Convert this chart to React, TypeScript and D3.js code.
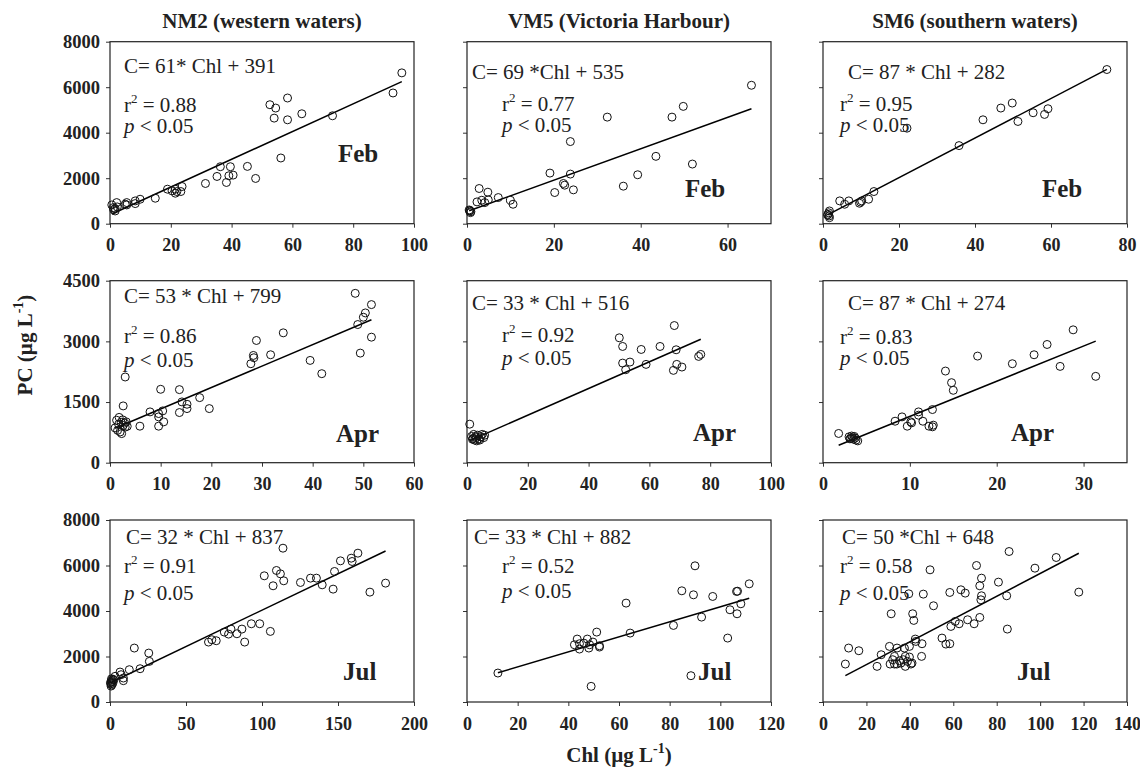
import React, { useEffect, useRef } from "react";
import * as d3 from "d3";

// ---------- DATA ----------
const stations = ["NM2 (western waters)", "VM5 (Victoria Harbour)", "SM6 (southern waters)"];
const months = ["Feb", "Apr", "Jul"];

const xMaxByPanel = [
  [100, 70, 80],
  [60, 100, 35],
  [200, 120, 140],
];
const xTicksByPanel = [
  [[0, 20, 40, 60, 80, 100], [0, 20, 40, 60], [0, 20, 40, 60, 80]],
  [[0, 10, 20, 30, 40, 50, 60], [0, 20, 40, 60, 80, 100], [0, 10, 20, 30]],
  [[0, 50, 100, 150, 200], [0, 20, 40, 60, 80, 100, 120], [0, 20, 40, 60, 80, 100, 120, 140]],
];
const yMaxByRow = [8000, 4500, 8000];
const yTicksByRow = [
  [0, 2000, 4000, 6000, 8000],
  [0, 1500, 3000, 4500],
  [0, 2000, 4000, 6000, 8000],
];

const slopes = [
  [61, 69, 87],
  [53, 33, 87],
  [32, 33, 50],
];
const intercepts = [
  [391, 535, 282],
  [799, 516, 274],
  [837, 882, 648],
];
const equations = [
  ["C= 61* Chl + 391", "C= 69 *Chl + 535", "C= 87 * Chl + 282"],
  ["C= 53 * Chl + 799", "C= 33 * Chl + 516", "C= 87 * Chl + 274"],
  ["C= 32 * Chl + 837", "C= 33 * Chl + 882", "C= 50 *Chl + 648"],
];
const r2Values = [
  ["0.88", "0.77", "0.95"],
  ["0.86", "0.92", "0.83"],
  ["0.91", "0.52", "0.58"],
];

const nm2Feb = [[96.0,6630],[93.1,5746],[52.6,5230],[54.5,5083],[54.0,4641],[58.4,5525],[58.4,4567],[63.1,4832],[73.2,4744],[56.2,2888],[45.2,2519],[47.9,1989],[36.3,2505],[35.2,2077],[39.6,2505],[39.1,2107],[40.5,2136],[38.3,1812],[31.4,1768],[18.9,1517],[20.4,1444],[21.5,1517],[22.0,1414],[23.7,1635],[23.3,1414],[21.5,1340],[14.9,1120],[9.9,1075],[8.3,1002],[8.3,884],[5.5,928],[5.0,855],[2.2,928],[0.6,825],[1.1,707],[1.7,560],[1.7,663],[5.5,825],[2.4,737],[1.2,620]];
const vm5Feb = [[65.5,6085],[49.8,5157],[47.2,4685],[32.3,4685],[23.8,3610],[43.5,2961],[51.9,2622],[39.3,2151],[36.0,1650],[19.1,2225],[23.8,2181],[22.2,1768],[22.5,1694],[24.5,1488],[20.2,1370],[10.0,1031],[10.6,855],[7.2,1149],[2.8,1547],[4.8,1385],[4.9,1046],[3.4,1031],[2.3,958],[4.1,928],[0.6,560],[0.8,486],[0.5,604],[0.9,530],[0.7,580]];
const sm6Feb = [[74.7,6777],[49.8,5304],[46.8,5083],[59.2,5053],[58.3,4803],[55.3,4877],[51.3,4494],[42.1,4567],[22.1,4199],[35.8,3433],[13.4,1414],[12.0,1075],[10.2,1002],[9.6,899],[9.9,950],[6.8,1002],[4.4,1002],[5.7,855],[1.7,560],[1.3,412],[1.6,339],[1.7,265],[1.5,480],[1.2,380]];
const nm2Apr = [[48.4,4188],[51.6,3909],[50.4,3703],[50.0,3597],[48.9,3416],[51.6,3104],[49.4,2710],[34.2,3211],[28.9,3022],[28.3,2652],[28.4,2595],[27.8,2447],[31.7,2669],[39.5,2529],[41.8,2201],[3.0,2119],[10.0,1815],[13.7,1807],[17.7,1609],[19.6,1338],[14.2,1503],[15.2,1445],[15.2,1338],[13.7,1240],[10.4,1281],[9.6,1215],[9.6,1133],[7.9,1256],[10.6,1010],[9.6,903],[5.9,903],[2.6,1404],[1.3,1050],[1.8,1120],[2.5,1060],[3.2,1010],[2.9,980],[1.0,860],[1.5,800],[2.0,760],[2.3,720],[3.0,880],[2.6,920],[1.7,950],[3.4,900],[2.2,1000]];
const vm5Apr = [[68.2,3391],[50.1,3088],[51.2,2874],[57.3,2800],[63.5,2874],[68.8,2792],[51.2,2463],[53.6,2488],[52.2,2299],[58.9,2431],[67.9,2283],[69.0,2431],[70.7,2365],[76.2,2628],[76.9,2677],[0.9,953],[1.5,650],[2.0,600],[2.5,560],[3.0,620],[3.5,680],[4.0,590],[4.5,640],[5.0,700],[5.5,620],[2.2,700],[3.2,540],[4.2,560],[1.8,580],[5.8,680],[2.8,650]];
const sm6Apr = [[28.8,3285],[25.8,2923],[24.3,2669],[21.8,2447],[27.3,2381],[31.4,2135],[17.8,2636],[14.1,2266],[14.8,1979],[15.0,1790],[12.6,1314],[11.0,1256],[11.0,1174],[9.1,1133],[8.3,1026],[10.1,1010],[10.2,985],[9.7,903],[11.5,1026],[12.2,903],[12.7,928],[12.6,887],[1.8,723],[3.0,640],[3.2,600],[3.4,620],[3.5,580],[3.6,650],[3.8,560],[4.0,540],[3.3,660],[3.1,590],[3.7,610]];
const nm2Jul = [[113.8,6761],[163.1,6542],[158.7,6322],[159.3,6176],[151.6,6205],[181.3,5225],[171.0,4829],[147.7,5737],[146.8,4961],[139.6,5151],[135.8,5444],[131.9,5444],[125.3,5254],[109.5,5781],[112.1,5634],[114.3,5327],[101.5,5547],[107.3,5108],[105.5,3103],[98.5,3439],[93.0,3439],[86.8,3205],[88.6,2634],[83.5,3000],[79.6,3205],[78.0,2985],[75.2,3073],[69.9,2693],[67.0,2737],[64.8,2634],[16.0,2371],[25.5,2151],[25.9,1785],[19.8,1463],[12.7,1420],[6.6,1317],[7.3,1200],[8.8,1054],[8.8,937],[3.3,1127],[1.0,950],[0.8,880],[0.5,800],[1.2,750],[0.7,700],[2.0,1000],[1.5,900],[0.3,850],[1.8,820],[1.0,1020],[2.5,960]];
const vm5Jul = [[90.0,5986],[111.4,5195],[84.8,4888],[89.4,4712],[97.0,4639],[106.4,4859],[106.8,4870],[108.1,4317],[103.8,4054],[106.6,3878],[92.6,3732],[81.5,3366],[102.9,2810],[62.8,4347],[64.4,3029],[51.2,3073],[43.5,2766],[47.5,2766],[42.4,2517],[44.4,2561],[46.1,2590],[49.7,2634],[48.4,2517],[44.4,2327],[48.1,2371],[52.3,2473],[52.3,2415],[12.2,1273],[49.0,688],[88.4,1156]];
const sm6Jul = [[85.7,6615],[107.4,6352],[97.6,5883],[70.7,6000],[49.3,5810],[73.0,5444],[72.2,5108],[80.8,5269],[63.5,4932],[65.5,4786],[58.4,4815],[73.0,4669],[72.7,4493],[84.6,4669],[117.8,4829],[46.2,4742],[39.5,4756],[50.9,4230],[31.4,3878],[41.3,3878],[41.8,3586],[72.2,3717],[69.6,3439],[66.6,3615],[62.7,3439],[60.9,3542],[58.9,3322],[84.9,3205],[54.8,2810],[56.6,2546],[58.4,2561],[42.5,2766],[42.8,2663],[45.6,2561],[11.8,2371],[16.5,2254],[10.3,1668],[24.9,1566],[26.8,2078],[30.6,2444],[34.1,2371],[37.5,2371],[39.8,2444],[37.9,2005],[39.8,1976],[45.4,2005],[32.9,2005],[32.1,1859],[30.9,1668],[32.9,1668],[35.2,1815],[35.9,1712],[37.9,1566],[40.5,1668],[41.0,1712],[34.0,1668],[37.0,1859],[38.9,1785]];

const panelData = [
  [nm2Feb, vm5Feb, sm6Feb],
  [nm2Apr, vm5Apr, sm6Apr],
  [nm2Jul, vm5Jul, sm6Jul],
];

// ---------- LAYOUT ----------
const W = 1140, H = 768;
const colLeft = [110, 467, 823];
const rowTop = [41.7, 280.7, 520];
const PW = 304, PH = 182;
const FONT = "'Liberation Serif', 'Times New Roman', Times, serif";

// text offsets relative to panel top-left: [eqX, eqY, r2X, r2Y, pX, pY, monX, monY]
const textLayout = [
  [[14, 31, 14, 70, 14, 91.6, 228, 120.6], [5, 37.3, 35, 69.3, 35, 90, 218, 155.6], [25, 37.3, 17, 69.3, 17, 90, 219, 155.6]],
  [[14, 22.6, 14, 62.6, 14, 86, 226, 161], [5, 29.3, 35, 61, 35, 84.3, 226, 160], [25, 29.3, 17, 63.3, 17, 84.3, 188, 160]],
  [[16, 24, 14, 53.3, 14, 80, 233, 160], [7, 24, 35, 53.3, 35, 78.3, 231, 160], [19, 24, 17, 53.3, 17, 80, 194, 160]],
];

export default function App() {
  const ref = useRef<SVGSVGElement>(null);

  useEffect(() => {
    const svg = d3.select(ref.current);
    svg.selectAll("*").remove();
    svg.append("rect").attr("width", W).attr("height", H).attr("fill", "#fff");

    for (let r = 0; r < 3; r++) {
      for (let c = 0; c < 3; c++) {
        const left = colLeft[c], top = rowTop[r];
        const x = d3.scaleLinear().domain([0, xMaxByPanel[r][c]]).range([left, left + PW]);
        const y = d3.scaleLinear().domain([0, yMaxByRow[r]]).range([top + PH, top]);
        const g = svg.append("g");

        const xa = g.append("g").attr("transform", `translate(0,${top + PH})`)
          .call(d3.axisBottom(x).tickValues(xTicksByPanel[r][c]).tickSize(4).tickPadding(11).tickFormat(d3.format("d")));
        xa.select(".domain").remove();
        xa.selectAll("text").attr("font-family", FONT).attr("font-weight", "bold").attr("font-size", 18).attr("fill", "#222");
        xa.selectAll("line").attr("stroke", "#333");

        const ya = g.append("g").attr("transform", `translate(${left},0)`)
          .call(d3.axisLeft(y).tickValues(yTicksByRow[r]).tickSize(4).tickPadding(6)
            .tickFormat(c === 0 ? (d3.format("d") as any) : () => ""));
        ya.select(".domain").remove();
        ya.selectAll("text").attr("font-family", FONT).attr("font-weight", "bold").attr("font-size", 18.5).attr("fill", "#222");
        ya.selectAll("line").attr("stroke", "#333");

        g.append("rect").attr("x", left).attr("y", top).attr("width", PW).attr("height", PH)
          .attr("fill", "none").attr("stroke", "#222").attr("stroke-width", 1.2);

        const data = panelData[r][c];
        const [xmin, xmax] = d3.extent(data, (d) => d[0]) as [number, number];
        const line = d3.line<number>().x((v) => x(v)).y((v) => y(slopes[r][c] * v + intercepts[r][c]));
        g.append("path").attr("d", line([xmin, xmax])).attr("stroke", "#000").attr("stroke-width", 1.5).attr("fill", "none");

        g.selectAll("circle.pt").data(data).enter().append("circle")
          .attr("cx", (d) => x(d[0])).attr("cy", (d) => y(d[1])).attr("r", 4)
          .attr("fill", "none").attr("stroke", "#111").attr("stroke-width", 1);

        const t = textLayout[r][c];
        g.append("text").attr("x", left + t[0]).attr("y", top + t[1]).attr("font-family", FONT).attr("font-size", 21).attr("fill", "#222")
          .text(equations[r][c]);
        const r2 = g.append("text").attr("x", left + t[2]).attr("y", top + t[3]).attr("font-family", FONT).attr("font-size", 21).attr("fill", "#222");
        r2.append("tspan").text("r");
        r2.append("tspan").attr("font-size", 13).attr("dy", -9).text("2");
        r2.append("tspan").attr("dy", 9).text(" = " + r2Values[r][c]);
        const p = g.append("text").attr("x", left + t[4]).attr("y", top + t[5]).attr("font-family", FONT).attr("font-size", 21).attr("fill", "#222");
        p.append("tspan").attr("font-style", "italic").text("p");
        p.append("tspan").text(" < 0.05");
        g.append("text").attr("x", left + t[6]).attr("y", top + t[7]).attr("font-family", FONT).attr("font-size", 25)
          .attr("font-weight", "bold").attr("fill", "#222").text(months[r]);
      }
    }

    stations.forEach((s, c) => {
      svg.append("text").attr("x", colLeft[c] + PW / 2).attr("y", 28).attr("text-anchor", "middle")
        .attr("font-family", FONT).attr("font-weight", "bold").attr("font-size", 21).attr("fill", "#222").text(s);
    });

    const yt = svg.append("text").attr("transform", "translate(32,345) rotate(-90)").attr("text-anchor", "middle")
      .attr("font-family", FONT).attr("font-weight", "bold").attr("font-size", 21).attr("fill", "#222");
    yt.append("tspan").text("PC (\u00B5g L");
    yt.append("tspan").attr("font-size", 14).attr("dy", -9).text("-1");
    yt.append("tspan").attr("dy", 9).text(")");

    const xt = svg.append("text").attr("x", colLeft[1] + PW / 2).attr("y", 762).attr("text-anchor", "middle")
      .attr("font-family", FONT).attr("font-weight", "bold").attr("font-size", 21).attr("fill", "#222");
    xt.append("tspan").text("Chl (\u00B5g L");
    xt.append("tspan").attr("font-size", 14).attr("dy", -9).text("-1");
    xt.append("tspan").attr("dy", 9).text(")");
  }, []);

  return (
    <svg ref={ref} width={W} height={H} style={{ display: "block", position: "absolute", left: 0, top: 0 }} />
  );
}
